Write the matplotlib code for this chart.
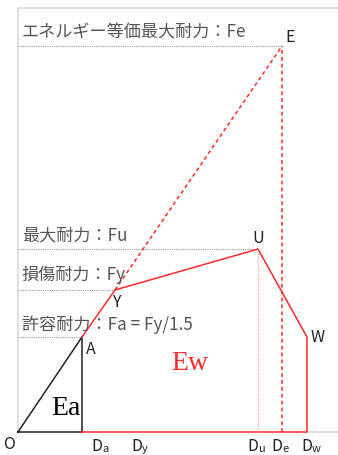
import matplotlib.pyplot as plt

# displacements and forces (arbitrary units)
disp_labels = ["a", "y", "u", "e", "w"]
D = {"a": 64, "y": 97, "u": 240, "e": 264, "w": 289}
F = {"a": 95, "y": 142, "u": 183, "e": 386, "w": 95}
frame_top = 424
frame_right = 320

force_texts = [
    ("エネルギー等価最大耐力：Fe", "e"),
    ("最大耐力：Fu", "u"),
    ("損傷耐力：Fy", "y"),
    ("許容耐力：Fa = Fy/1.5", "a"),
]

plt.rcParams['font.family'] = ['Noto Sans CJK JP', 'DejaVu Sans']

fig = plt.figure(figsize=(3.38, 4.56), dpi=100)
ax = fig.add_axes([0, 0, 1, 1])
ax.set_xlim(-18, 320)
ax.set_ylim(-23, 433)
ax.axis('off')

red = '#ff2a2a'
gray = '#9a9a9a'
txt = '#555555'

# frame
ax.plot([0, 0, frame_right], [0, frame_top, frame_top], color='#d9d9d9', lw=1.2)
ax.plot([D["w"], frame_right], [0, 0], color='#d9d9d9', lw=1.2)

# dotted guides to the force levels
for k, xk in [("e", D["e"]), ("u", D["u"]), ("y", D["y"]), ("a", D["a"])]:
    ax.plot([0, xk], [F[k], F[k]], color=gray, lw=0.8, ls=(0, (1, 1)))

# elastic triangle
ax.plot([0, D["a"], D["a"], 0], [0, F["a"], 0, 0], color='#222222', lw=1.1)

# capacity curve
xs = [D["a"], D["y"], D["u"], D["w"], D["w"], D["a"]]
ys = [F["a"], F["y"], F["u"], F["w"], 0, 0]
ax.plot(xs, ys, color=red, lw=1.1)

# energy-equivalent line
ax.plot([D["y"], D["e"]], [F["y"], F["e"]], color=red, lw=1.1, ls=(0, (2.5, 2)))
ax.plot([D["e"], D["e"]], [0, F["e"]], color=red, lw=1.1, ls=(0, (2.5, 2)))
ax.plot([D["u"], D["u"]], [0, F["u"]], color='#ff9a9a', lw=0.9, ls=(0, (1, 1)))

# level labels
offs = {"e": 5, "u": 5, "y": 7, "a": 4}
for s, k in force_texts:
    ax.text(4, F[k] + offs[k], s, fontsize=12.3, color=txt, ha='left', va='bottom')

# point labels
fs = 11.5
ax.text(D["e"] + 3, F["e"] + 1, "E", fontsize=fs, color='#222222', ha='left', va='bottom')
ax.text(D["u"], F["u"] + 3, "U", fontsize=fs, color='#222222', ha='center', va='bottom')
ax.text(D["y"] + 1, F["y"] - 3, "Y", fontsize=fs, color='#222222', ha='center', va='top')
ax.text(D["a"] + 4, F["a"] - 3, "A", fontsize=fs, color='#222222', ha='left', va='top')
ax.text(D["w"] + 4, F["w"], "W", fontsize=fs, color='#222222', ha='left', va='center')
ax.text(-9, -3, "O", fontsize=fs, color='#222222', ha='center', va='top')

# displacement labels
for k in disp_labels:
    x0 = D[k] + (20 if k == "a" else 27 if k == "y" else 0)
    if k == "w":
        x0 += 5
    ax.text(x0, -5, "D", fontsize=fs, color='#222222', ha='right', va='top')
    ax.text(x0, -11, k, fontsize=8, color='#222222', ha='left', va='top')

ax.text(48, 24, "Ea", fontsize=20, family='Liberation Serif', color='black', ha='center', va='center')
ax.text(172, 69, "Ew", fontsize=20, family='Liberation Serif', color=red, ha='center', va='center')

fig.savefig('out.png', dpi=100)
